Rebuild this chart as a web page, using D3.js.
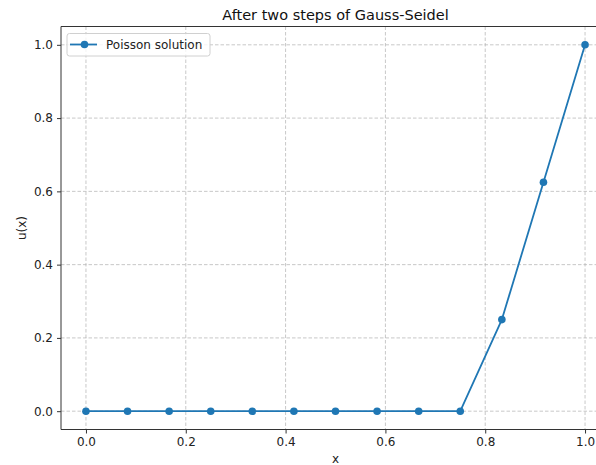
<!DOCTYPE html>
<html>
<head>
<meta charset="utf-8">
<script src="https://cdn.jsdelivr.net/npm/d3@7/dist/d3.min.js"></script>
<style>
  html, body { margin: 0; padding: 0; background: #fff; }
  svg { display: block; font-family: "DejaVu Sans", sans-serif; }
</style>
</head>
<body>
<svg id="chart" width="596" height="465"></svg>
<script>
// Grid points on [0, 1] with h = 1/12
const xValues = [0, 1/12, 2/12, 3/12, 4/12, 5/12, 6/12, 7/12, 8/12, 9/12, 10/12, 11/12, 1];
// u(x) after two Gauss-Seidel sweeps
const uValues = [0, 0, 0, 0, 0, 0, 0, 0, 0, 0, 0.25, 0.625, 1.0];
const xTicks = [0.0, 0.2, 0.4, 0.6, 0.8, 1.0];
const yTicks = [0.0, 0.2, 0.4, 0.6, 0.8, 1.0];
const seriesName = "Poisson solution";
const titleText = "After two steps of Gauss-Seidel";

const svg = d3.select("#chart");
const plot = { left: 61, right: 610, top: 26.5, bottom: 429.5 };

const x = d3.scaleLinear().domain([-0.05, 1.05]).range([plot.left, plot.right]);
const y = d3.scaleLinear().domain([-0.05, 1.05]).range([plot.bottom, plot.top]);

const blue = "#1f77b4";

// grid
const grid = svg.append("g");
grid.selectAll("line.gx").data(xTicks).enter().append("line")
  .attr("x1", d => x(d)).attr("x2", d => x(d))
  .attr("y1", plot.top).attr("y2", plot.bottom)
  .attr("stroke", "#b0b0b0").attr("stroke-opacity", 0.7)
  .attr("stroke-width", 1).attr("stroke-dasharray", "3.5,2");
grid.selectAll("line.gy").data(yTicks).enter().append("line")
  .attr("y1", d => y(d)).attr("y2", d => y(d))
  .attr("x1", plot.left).attr("x2", plot.right)
  .attr("stroke", "#b0b0b0").attr("stroke-opacity", 0.7)
  .attr("stroke-width", 1).attr("stroke-dasharray", "3.5,2");

// axes
const xAxis = d3.axisBottom(x).tickValues(xTicks).tickFormat(d3.format(".1f")).tickSize(4).tickPadding(4);
const yAxis = d3.axisLeft(y).tickValues(yTicks).tickFormat(d3.format(".1f")).tickSize(4).tickPadding(4);

const gx = svg.append("g").attr("transform", `translate(0,${plot.bottom})`).call(xAxis);
const gy = svg.append("g").attr("transform", `translate(${plot.left},0)`).call(yAxis);
[gx, gy].forEach(g => {
  g.select(".domain").remove();
  g.selectAll(".tick line").attr("stroke", "#333").attr("stroke-width", 1);
  g.selectAll(".tick text").attr("fill", "#222").style("font-size", "12px")
    .style("font-family", "DejaVu Sans, sans-serif");
});

// spines
const spines = svg.append("g").attr("stroke", "#333").attr("stroke-width", 1).attr("fill", "none");
spines.append("line").attr("x1", plot.left).attr("x2", plot.left).attr("y1", plot.top).attr("y2", plot.bottom);
spines.append("line").attr("x1", plot.left).attr("x2", plot.right).attr("y1", plot.bottom).attr("y2", plot.bottom);
spines.append("line").attr("x1", plot.left).attr("x2", plot.right).attr("y1", plot.top).attr("y2", plot.top);
spines.append("line").attr("x1", plot.right).attr("x2", plot.right).attr("y1", plot.top).attr("y2", plot.bottom);

// series
const pts = xValues.map((v, i) => [v, uValues[i]]);
svg.append("path").datum(pts)
  .attr("fill", "none").attr("stroke", blue).attr("stroke-width", 1.8)
  .attr("stroke-linejoin", "round")
  .attr("d", d3.line().x(d => x(d[0])).y(d => y(d[1])));
svg.append("g").selectAll("circle").data(pts).enter().append("circle")
  .attr("cx", d => x(d[0])).attr("cy", d => y(d[1])).attr("r", 3.8)
  .attr("fill", blue);

// title and labels
svg.append("text").attr("x", (plot.left + plot.right) / 2).attr("y", 20)
  .attr("text-anchor", "middle").style("font-size", "14.5px").attr("fill", "#111").text(titleText);
svg.append("text").attr("x", (plot.left + plot.right) / 2).attr("y", 463)
  .attr("text-anchor", "middle").style("font-size", "12px").attr("fill", "#222").text("x");
svg.append("text").attr("transform", `translate(26,${(plot.top + plot.bottom) / 2}) rotate(-90)`)
  .attr("text-anchor", "middle").style("font-size", "12px").attr("fill", "#222").text("u(x)");

// legend
const lg = svg.append("g");
lg.append("rect").attr("x", 67).attr("y", 33.5).attr("width", 143).attr("height", 22.5)
  .attr("rx", 2.5).attr("fill", "#fff").attr("fill-opacity", 0.8)
  .attr("stroke", "#d0d0d0").attr("stroke-width", 1);
lg.append("line").attr("x1", 70).attr("x2", 97).attr("y1", 44.5).attr("y2", 44.5)
  .attr("stroke", blue).attr("stroke-width", 1.8);
lg.append("circle").attr("cx", 84.5).attr("cy", 44.5).attr("r", 3.8).attr("fill", blue);
lg.append("text").attr("x", 106).attr("y", 49).style("font-size", "12px")
  .attr("fill", "#222").text(seriesName);
</script>
</body>
</html>
